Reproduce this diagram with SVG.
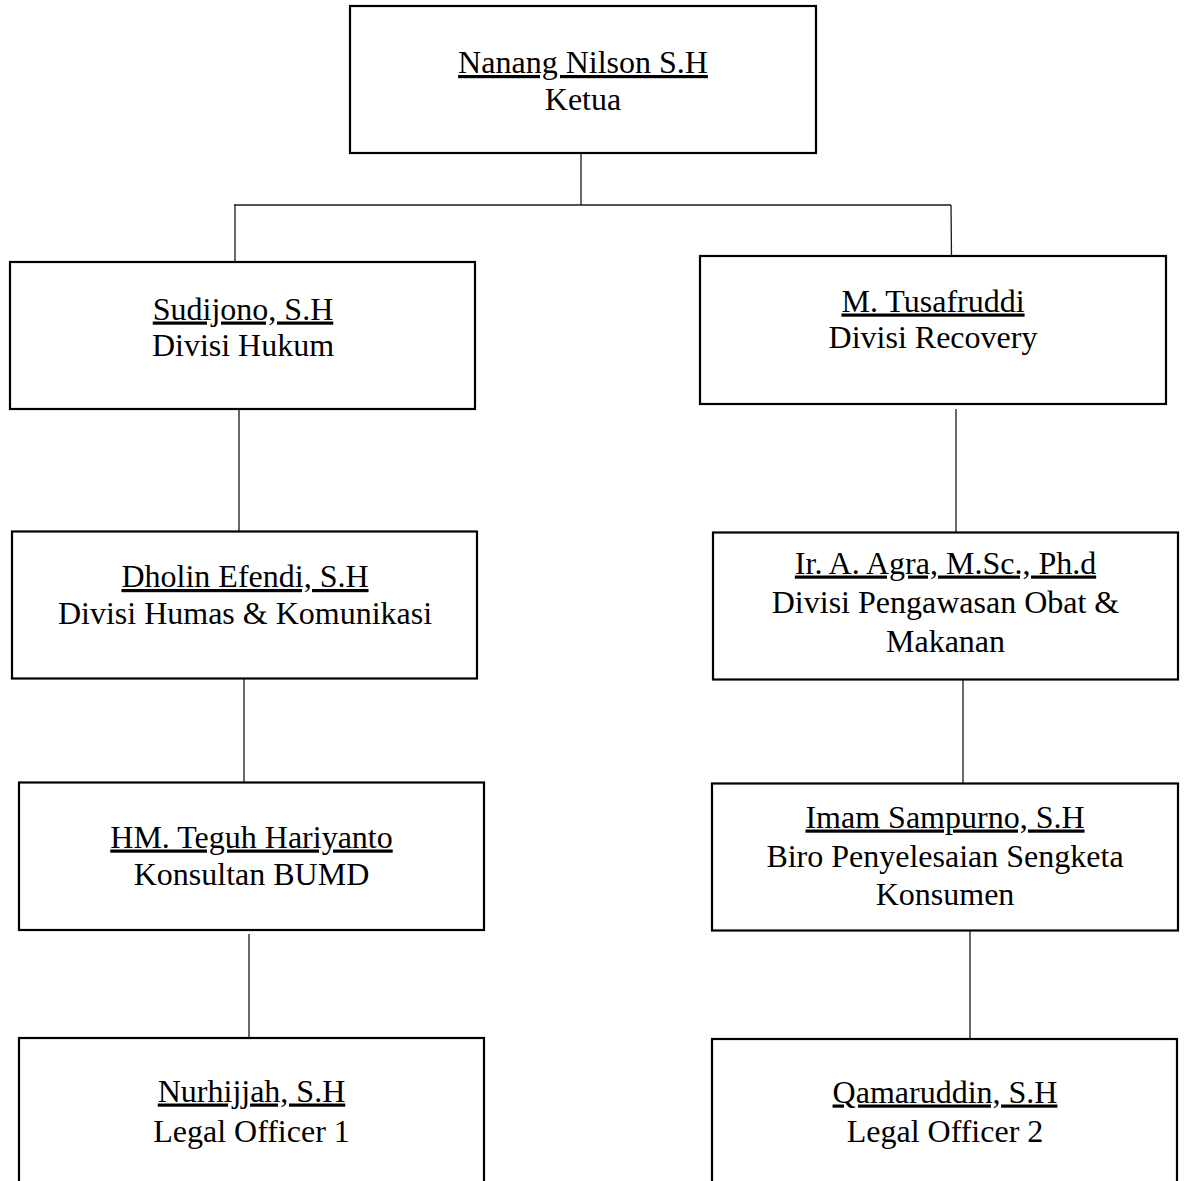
<svg xmlns="http://www.w3.org/2000/svg" width="1185" height="1181" viewBox="0 0 1185 1181">
<style>
.box{fill:#fff;stroke:#000;stroke-width:2.2}
.t{font-family:"Liberation Serif","Times New Roman",serif;font-size:32px;fill:#000;text-anchor:middle}
.u{text-decoration:underline;text-decoration-skip-ink:none}
.c{stroke:#1a1a1a;stroke-width:1.3;fill:none}
</style>
<rect width="1185" height="1181" fill="#fff"/>
<g id="connectors">
<line class="c" x1="581" y1="153" x2="581" y2="205"/>
<line class="c" x1="234" y1="205" x2="951" y2="205"/>
<line class="c" x1="235" y1="205" x2="235" y2="262"/>
<line class="c" x1="951" y1="205" x2="951.5" y2="256"/>
<line class="c" x1="239" y1="409" x2="239" y2="531"/>
<line class="c" x1="956" y1="409" x2="956" y2="535"/>
<line class="c" x1="244" y1="678" x2="244" y2="782"/>
<line class="c" x1="963" y1="679" x2="963" y2="787"/>
<line class="c" x1="249" y1="934" x2="249" y2="1038"/>
<line class="c" x1="970" y1="930" x2="970" y2="1039"/>
</g>
<g id="ketua">
<rect class="box" x="350" y="6" width="466" height="147"/>
<text class="t u" x="583" y="73">Nanang Nilson S.H</text>
<text class="t" x="583" y="109.5">Ketua</text>
</g>
<g id="hukum">
<rect class="box" x="10" y="262" width="465" height="147"/>
<text class="t u" x="243" y="319.5">Sudijono, S.H</text>
<text class="t" x="243" y="355.5">Divisi Hukum</text>
</g>
<g id="recovery">
<rect class="box" x="700" y="256" width="466" height="148"/>
<text class="t u" x="933" y="311.5">M. Tusafruddi</text>
<text class="t" x="933" y="348">Divisi Recovery</text>
</g>
<g id="humas">
<rect class="box" x="12" y="531.5" width="465" height="147"/>
<text class="t u" x="245" y="587">Dholin Efendi, S.H</text>
<text class="t" x="245" y="623.5">Divisi Humas &amp; Komunikasi</text>
</g>
<g id="pengawasan">
<rect class="box" x="713" y="532.5" width="465" height="147"/>
<text class="t u" x="945.5" y="573.5">Ir. A. Agra, M.Sc., Ph.d</text>
<text class="t" x="945.5" y="612.5">Divisi Pengawasan Obat &amp;</text>
<text class="t" x="945.5" y="651.5">Makanan</text>
</g>
<g id="bumd">
<rect class="box" x="19" y="782.5" width="465" height="147.5"/>
<text class="t u" x="251.5" y="847.5">HM. Teguh Hariyanto</text>
<text class="t" x="251.5" y="885">Konsultan BUMD</text>
</g>
<g id="sengketa">
<rect class="box" x="712" y="783.5" width="466" height="147"/>
<text class="t u" x="945" y="827.5">Imam Sampurno, S.H</text>
<text class="t" x="945" y="866.5">Biro Penyelesaian Sengketa</text>
<text class="t" x="945" y="905">Konsumen</text>
</g>
<g id="legal1">
<rect class="box" x="19" y="1038" width="465" height="160"/>
<text class="t u" x="251.5" y="1101.5">Nurhijjah, S.H</text>
<text class="t" x="251.5" y="1141.5">Legal Officer 1</text>
</g>
<g id="legal2">
<rect class="box" x="712" y="1039" width="465" height="160"/>
<text class="t u" x="945" y="1102.5">Qamaruddin, S.H</text>
<text class="t" x="945" y="1141.5">Legal Officer 2</text>
</g>
</svg>
